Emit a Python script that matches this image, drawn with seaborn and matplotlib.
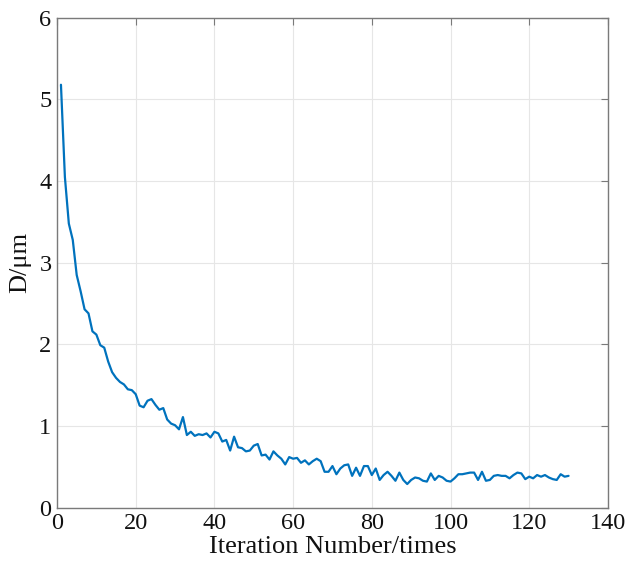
import numpy as np
import pandas as pd
import matplotlib
matplotlib.use("Agg")
import matplotlib.pyplot as plt
import seaborn as sns

# Diameter D (µm) recorded at each iteration
iterations = list(range(1, 131))
diameter = [
    5.18, 4.05, 3.48, 3.28, 2.85, 2.65, 2.43, 2.38, 2.16, 2.12,
    1.99, 1.96, 1.79, 1.66, 1.59, 1.54, 1.51, 1.45, 1.44, 1.39,
    1.25, 1.23, 1.31, 1.33, 1.26, 1.20, 1.22, 1.08, 1.03, 1.01,
    0.96, 1.11, 0.89, 0.93, 0.88, 0.90, 0.89, 0.91, 0.86, 0.93,
    0.91, 0.81, 0.83, 0.70, 0.87, 0.74, 0.73, 0.69, 0.70, 0.76,
    0.78, 0.64, 0.65, 0.59, 0.69, 0.64, 0.60, 0.53, 0.62, 0.60,
    0.61, 0.55, 0.58, 0.53, 0.57, 0.60, 0.57, 0.44, 0.44, 0.51,
    0.41, 0.48, 0.52, 0.53, 0.39, 0.49, 0.39, 0.51, 0.51, 0.40,
    0.48, 0.34, 0.40, 0.44, 0.39, 0.33, 0.43, 0.34, 0.29, 0.34,
    0.37, 0.36, 0.33, 0.32, 0.42, 0.34, 0.39, 0.37, 0.33, 0.32,
    0.36, 0.41, 0.41, 0.42, 0.43, 0.43, 0.34, 0.44, 0.33, 0.34,
    0.39, 0.40, 0.39, 0.39, 0.36, 0.40, 0.43, 0.42, 0.35, 0.38,
    0.36, 0.40, 0.38, 0.40, 0.37, 0.35, 0.34, 0.41, 0.38, 0.39,
]
x_ticks = [0, 20, 40, 60, 80, 100, 120, 140]
y_ticks = [0, 1, 2, 3, 4, 5, 6]

df = pd.DataFrame({"iteration": iterations, "D": diameter})

sns.set_theme(style="white")
plt.rcParams["font.family"] = ["Liberation Serif", "DejaVu Serif"]

fig = plt.figure(figsize=(6.28, 5.72), dpi=100)
ax = fig.add_axes([0.0908, 0.1124, 0.8772, 0.8565])

sns.lineplot(data=df, x="iteration", y="D", ax=ax, color="#0072BD",
             linewidth=1.6)

ax.set_xlim(0, 140)
ax.set_ylim(0, 6)
ax.set_xticks(x_ticks)
ax.set_yticks(y_ticks)
ax.set_xticklabels([str(t) for t in x_ticks])
ax.set_yticklabels([str(t) for t in y_ticks])

ax.grid(True, color="#e6e6e6", linewidth=0.8)
for s in ax.spines.values():
    s.set_visible(True)
    s.set_color("#7a7a7a")
    s.set_linewidth(1.0)

ax.tick_params(axis="both", which="both", direction="in", length=5,
               width=0.8, color="#7a7a7a", labelsize=17.5, labelcolor="#111111",
               top=True, right=True, pad=4)

ax.set_xlabel("Iteration Number/times", fontsize=19, color="#111111", labelpad=1)
ax.set_ylabel("D/μm", fontsize=19, color="#111111", labelpad=6)

fig.savefig("out.png", dpi=100)
